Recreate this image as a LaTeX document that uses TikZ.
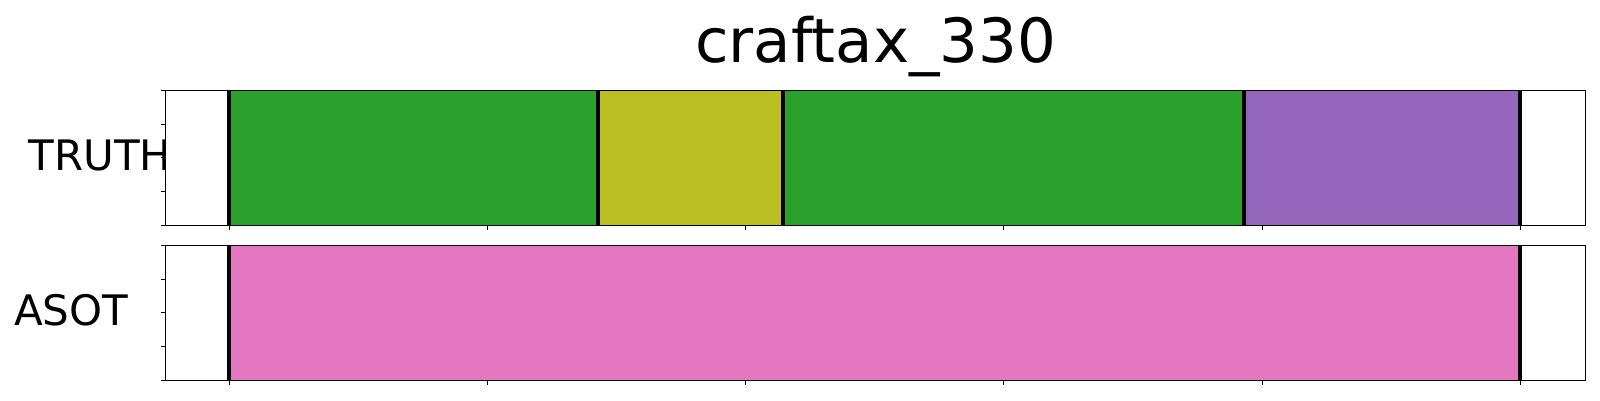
\documentclass[tikz,border=0pt]{standalone}
\usepackage{fontspec}
\setmainfont{DejaVu Sans}
\definecolor{segGreen}{HTML}{2CA02C}
\definecolor{segOlive}{HTML}{BCBD22}
\definecolor{segPurple}{HTML}{9467BD}
\definecolor{segPink}{HTML}{E377C2}

\begin{document}
\begin{tikzpicture}[x=1pt, y=-1pt,
    frame/.style={line width=1pt, black},
    bound/.style={line width=3.7pt, black}]
    \useasboundingbox (0,0) rectangle (1600,400);
    \node[anchor=base] (title) at (875.7,62) {\fontsize{61}{64}\selectfont craftax\_330};
    \node[anchor=base west, inner sep=0pt] (truth) at (28.5,170) {\fontsize{42}{46}\selectfont TRUTH};
    \node[anchor=base west, inner sep=0pt] (asot) at (14,325) {\fontsize{42}{46}\selectfont ASOT};
    % axes backgrounds
    \fill[white] (165.7,90.3) rectangle (1585.7,225.3);
    \fill[white] (165.7,245.3) rectangle (1585.7,380.3);
    % TRUTH segments
    \fill[segGreen] (229.3,90.3) rectangle (598.2,225.3);
    \fill[segOlive] (598.2,90.3) rectangle (782.8,225.3);
    \fill[segGreen] (782.8,90.3) rectangle (1243.8,225.3);
    \fill[segPurple] (1243.8,90.3) rectangle (1520.3,225.3);
    \foreach \b in {229.3,598.2,782.8,1243.8,1520.3}
        \draw[bound] (\b,90.3) -- (\b,225.3);
    % ASOT segments
    \fill[segPink] (229.3,245.3) rectangle (1520.3,380.3);
    \foreach \b in {229.3,1520.3}
        \draw[bound] (\b,245.3) -- (\b,380.3);
    % frames and ticks
    \draw[frame] (165.7,90.3) rectangle (1585.7,225.3);
    \draw[frame] (165.7,245.3) rectangle (1585.7,380.3);
    \foreach \t in {229.3,487.5,745.7,1003.9,1262.1,1520.3} {
        \draw[frame] (\t,225.3) -- (\t,230);
        \draw[frame] (\t,380.3) -- (\t,385);
    }
    \foreach \k in {0,1,2,3,4} {
        \draw[frame] (161,90.3+33.75*\k) -- (165.7,90.3+33.75*\k);
        \draw[frame] (161,245.3+33.75*\k) -- (165.7,245.3+33.75*\k);
    }
\end{tikzpicture}
\end{document}
